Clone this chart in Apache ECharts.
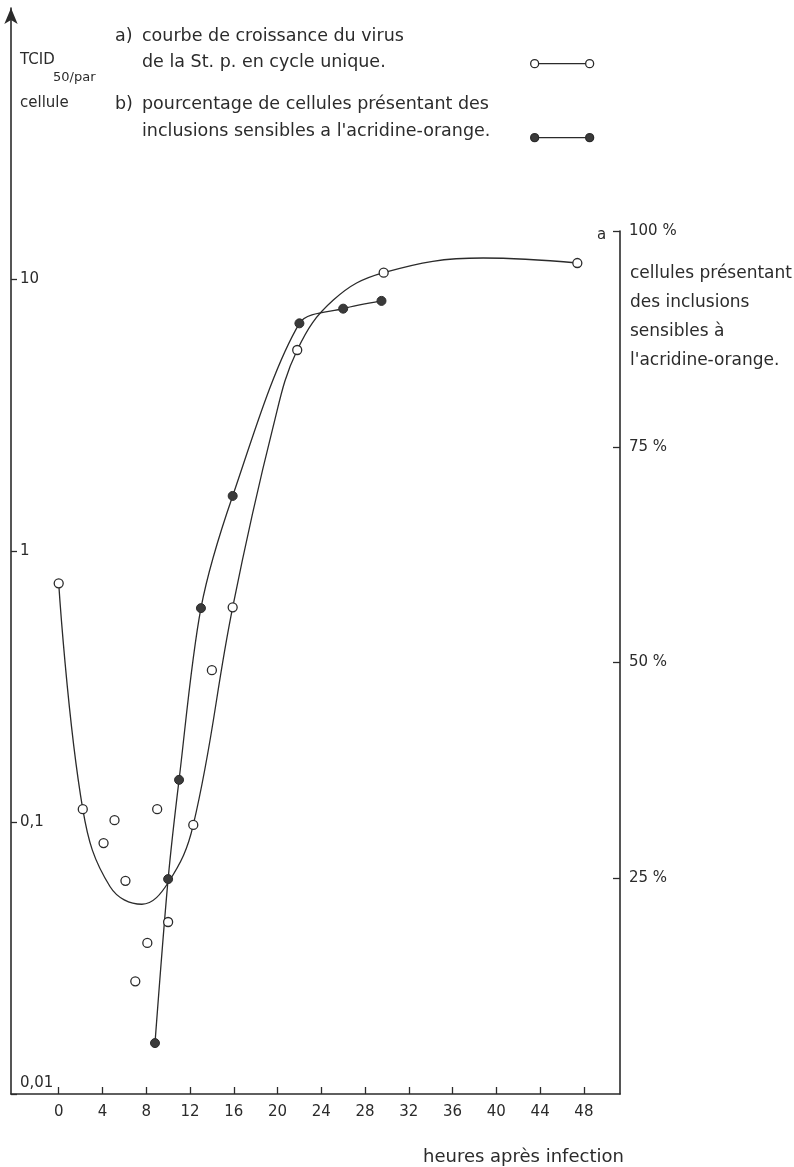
<!DOCTYPE html>
<html>
<head>
<meta charset="utf-8">
<script src="https://cdn.jsdelivr.net/npm/echarts@6.0.0/dist/echarts.min.js"></script>
<style>
  html, body { margin: 0; padding: 0; background: #fff; }
  #chart { width: 794px; height: 1167px; }
</style>
</head>
<body>
<div id="chart"></div>
<script>
// a) virus growth, TCID50 per cell (log scale, left axis)
var hoursA = [0, 2.2, 4.1, 5.1, 6.1, 7, 8.1, 9, 10, 12.3, 14, 15.9, 21.8, 29.7, 47.4]
var tcidA = [0.76, 0.112, 0.084, 0.102, 0.061, 0.026, 0.036, 0.112, 0.043, 0.098, 0.364, 0.62, 5.5, 10.6, 11.5]
// hand-drawn curve through the a) points
var curveHoursA = [0, 2.2, 4.7, 7.6, 10, 12.3, 15.9, 19.6, 21.8, 25.1, 29.7, 38.8, 47.4]
var curveTcidA = [0.76, 0.112, 0.058, 0.05, 0.06, 0.098, 0.62, 2.87, 5.5, 8.4, 10.6, 12.0, 11.5]
// b) % of cells with acridine-orange inclusions (right axis)
var hoursB = [8.8, 10, 11, 13, 15.9, 22, 26, 29.5]
var pctB = [5.9, 24.9, 36.4, 56.3, 69.3, 89.3, 91.0, 91.9]
// ticks
var xTicks = [0, 4, 8, 12, 16, 20, 24, 28, 32, 36, 40, 44, 48]
var leftTicks = [0.01, 0.1, 1, 10]
var leftLabels = ['0,01', '0,1', '1', '10']
var rightTicks = [25, 50, 75, 100]

var ink = '#2b2b2b'
var font = 'DejaVu Sans'
var legendIcon = 'path://M0.5,4.5 a4,4 0 1,0 8,0 a4,4 0 1,0 -8,0 M8.5,4.5 L55.5,4.5 M55.5,4.5 a4,4 0 1,0 8,0 a4,4 0 1,0 -8,0'

function pairs(xs, ys) {
  return xs.map(function (x, i) { return [x, ys[i]] })
}

function txt(size, lh) {
  return { fontSize: size, lineHeight: lh, fontWeight: 'normal', color: ink, fontFamily: font }
}

var chartDom = document.getElementById('chart')
var myChart = echarts.init(chartDom)

var xRange = { type: 'value', min: -4.36, max: 51.3 }

var option = {
  backgroundColor: '#fff',
  animation: false,
  textStyle: { fontFamily: font, color: ink },
  title: [
    {
      left: 115, top: 24, padding: 0,
      text: '{p|a)}{t|courbe de croissance du virus}\n{p|}{t|de la St. p. en cycle unique.}',
      textStyle: { fontWeight: 'normal', rich: {
        p: Object.assign(txt(17.5, 25.5), { width: 27 }),
        t: txt(17.5, 25.5)
      } }
    },
    {
      left: 115, top: 91, padding: 0,
      text: '{p|b)}{t|pourcentage de cellules présentant des}\n{p|}{t|inclusions sensibles a l\'acridine-orange.}',
      textStyle: { fontWeight: 'normal', rich: {
        p: Object.assign(txt(17.5, 27), { width: 27 }),
        t: txt(17.5, 27)
      } }
    },
    { left: 20, top: 50, padding: 0, text: 'TCID', textStyle: txt(15, 20) },
    { left: 53, top: 68, padding: 0, text: '50/par', textStyle: txt(13, 20) },
    { left: 20, top: 93, padding: 0, text: 'cellule', textStyle: txt(15, 20) },
    { left: 597, top: 225, padding: 0, text: 'a', textStyle: txt(15, 20) },
    {
      left: 630, top: 259, padding: 0,
      text: 'cellules présentant\ndes inclusions\nsensibles à\nl\'acridine-orange.',
      textStyle: txt(17, 29)
    },
    { left: 423, top: 1146, padding: 0, text: 'heures après infection', textStyle: txt(18, 22) }
  ],
  legend: [
    {
      data: [{ name: 'a', itemStyle: { color: '#fff', borderColor: ink, borderWidth: 1.3 } }],
      left: 530, top: 59, padding: 0,
      itemWidth: 64, itemHeight: 8,
      icon: legendIcon,
      formatter: function () { return '' },
      selectedMode: false
    },
    {
      data: [{ name: 'b', itemStyle: { color: '#3a3a3a', borderColor: ink, borderWidth: 1.3 } }],
      left: 530, top: 133, padding: 0,
      itemWidth: 64, itemHeight: 8,
      icon: legendIcon,
      formatter: function () { return '' },
      selectedMode: false
    }
  ],
  grid: [
    // main plot, left log axis up to the arrow
    { left: 11, right: 174, top: 8, bottom: 73, outerBoundsMode: 'none' },
    // right percentage axis, starts at 100 %
    { left: 11, right: 174, top: 231, bottom: 73, outerBoundsMode: 'none' },
    // only carries the left ticks 0,01 .. 10
    { left: 11, right: 174, top: 279.5, bottom: 73, outerBoundsMode: 'none' }
  ],
  xAxis: [
    Object.assign({}, xRange, {
      gridIndex: 0,
      axisLine: { show: true, onZero: false, lineStyle: { color: ink, width: 1.6 } },
      axisTick: { show: true, inside: true, length: 7, customValues: xTicks, lineStyle: { color: ink, width: 1.3 } },
      axisLabel: { customValues: xTicks, margin: 11, fontSize: 15, color: ink, fontFamily: font },
      splitLine: { show: false }
    }),
    Object.assign({}, xRange, { gridIndex: 1, show: false }),
    Object.assign({}, xRange, { gridIndex: 2, show: false })
  ],
  yAxis: [
    {
      gridIndex: 0,
      type: 'log',
      logBase: 10,
      min: 0.01,
      max: 100,
      position: 'left',
      axisLine: { show: true, onZero: false, symbol: ['none', 'arrow'], symbolSize: [10, 16], lineStyle: { color: ink, width: 1.6 } },
      axisTick: { show: false },
      axisLabel: { show: false },
      splitLine: { show: false }
    },
    {
      gridIndex: 1,
      type: 'value',
      min: 0,
      max: 100,
      interval: 25,
      position: 'right',
      axisLine: { show: true, onZero: false, lineStyle: { color: ink, width: 1.6 } },
      axisTick: { show: true, inside: true, length: 7, lineStyle: { color: ink, width: 1.3 } },
      axisLabel: {
        margin: 9,
        fontSize: 15,
        color: ink,
        fontFamily: font,
        showMinLabel: false,
        formatter: function (v) { return rightTicks.indexOf(v) >= 0 ? v + ' %' : '' }
      },
      splitLine: { show: false }
    },
    {
      gridIndex: 2,
      type: 'log',
      logBase: 10,
      min: 0.01,
      max: 10,
      position: 'left',
      axisLine: { show: false, onZero: false },
      axisTick: { show: true, inside: true, length: 6, lineStyle: { color: ink, width: 1.3 } },
      axisLabel: {
        inside: true,
        margin: 9,
        fontSize: 15,
        color: ink,
        fontFamily: font,
        formatter: function (v) {
          for (var i = 0; i < leftTicks.length; i++) {
            if (Math.abs(Math.log10(v) - Math.log10(leftTicks[i])) < 1e-6) {
              return i === 0 ? '{lo|' + leftLabels[i] + '}' : leftLabels[i]
            }
          }
          return ''
        },
        rich: { lo: { fontSize: 15, color: ink, fontFamily: font, padding: [0, 0, 22, 0] } }
      },
      splitLine: { show: false }
    }
  ],
  series: [
    {
      name: 'a',
      type: 'scatter',
      xAxisIndex: 0,
      yAxisIndex: 0,
      data: pairs(hoursA, tcidA),
      symbol: 'circle',
      symbolSize: 9,
      itemStyle: { color: '#fff', borderColor: ink, borderWidth: 1.3, opacity: 1 },
      z: 4
    },
    {
      type: 'line',
      xAxisIndex: 0,
      yAxisIndex: 0,
      data: pairs(curveHoursA, curveTcidA),
      smooth: 0.4,
      showSymbol: false,
      symbol: 'none',
      lineStyle: { color: ink, width: 1.3 },
      z: 2
    },
    {
      name: 'b',
      type: 'scatter',
      xAxisIndex: 1,
      yAxisIndex: 1,
      data: pairs(hoursB, pctB),
      symbol: 'circle',
      symbolSize: 9,
      itemStyle: { color: '#3a3a3a', borderColor: ink, borderWidth: 1, opacity: 1 },
      z: 5
    },
    {
      type: 'line',
      xAxisIndex: 1,
      yAxisIndex: 1,
      data: pairs(hoursB, pctB),
      smooth: 0.3,
      showSymbol: false,
      symbol: 'none',
      lineStyle: { color: ink, width: 1.3 },
      z: 3
    }
  ]
}

option && myChart.setOption(option)
</script>
</body>
</html>
